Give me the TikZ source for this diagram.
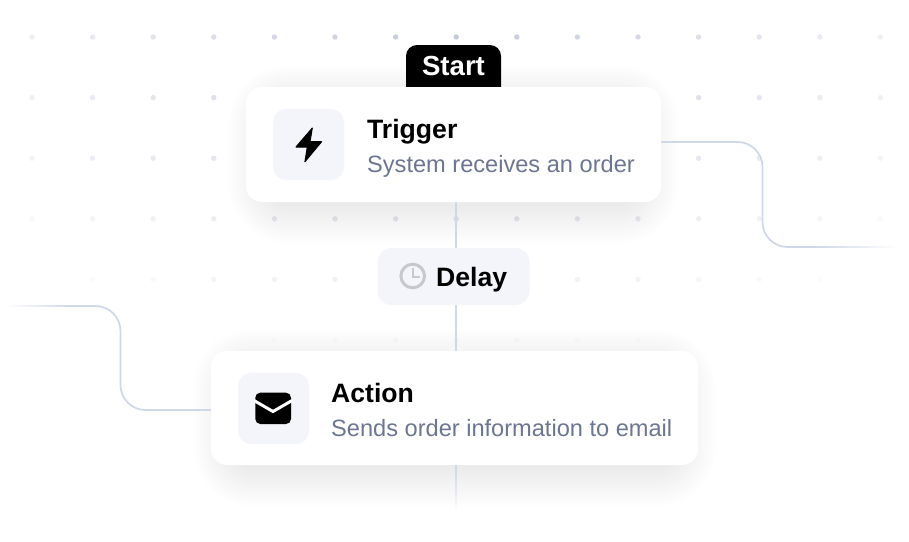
\documentclass[tikz,border=0pt]{standalone}
\usepackage{fontspec}
\setmainfont{Liberation Sans}
\usetikzlibrary{fadings}

\definecolor{linkc}{HTML}{CFD8E8}
\definecolor{dotc}{HTML}{C6CADB}
\definecolor{tilec}{HTML}{F3F5FA}
\definecolor{subc}{HTML}{6B7690}
\definecolor{clockc}{HTML}{C6C8CC}

\tikzset{
    cardbox/.style={fill=white, rounded corners=16pt, inner sep=0pt},
    tilebox/.style={fill=tilec, rounded corners=13pt, inner sep=0pt, minimum width=71pt, minimum height=71pt},
    titletext/.style={anchor=base west, inner sep=0pt, font=\fontsize{26.6}{30}\selectfont\bfseries},
    subtext/.style={anchor=base west, inner sep=0pt, text=subc, font=\fontsize{23.6}{28}\selectfont},
    linkline/.style={draw=linkc, line width=1.7pt, rounded corners=25pt}
}

\newcommand{\cardshadow}[5]{%
    \foreach \g in {0,2,...,44} {
        \fill[black, opacity=#5, rounded corners=16pt+\g pt]
            (#1+26-\g, #2+22-\g) rectangle (#3-26+\g, #4-2+\g);
    }
}

\begin{document}
\begin{tikzpicture}[x=1pt, y=-1pt]
    \useasboundingbox[fill=white] (0,0) rectangle (909,541);

    % Dots
    \foreach \i in {0,...,14} {
        \foreach \j in {0,...,5} {
            \pgfmathsetmacro{\dotx}{32+60.6*\i}
            \pgfmathsetmacro{\doty}{37+60.6*\j}
            \pgfmathsetmacro{\dotop}{max(0, 1-veclen(\dotx-450,1.8*(\doty-37))/600)}
            \fill[dotc, opacity=\dotop] (\dotx,\doty) circle (2.7pt);
        }
    }

    % Shadows
    \cardshadow{246}{87}{661}{202}{0.0025}
    \cardshadow{211}{351}{698}{465}{0.0035}

    % Nodes
    \node[fill=black, rounded corners=11pt, minimum width=95pt, minimum height=60pt, inner sep=0pt] (starttab) at (453.5,75) {};
    \node[anchor=base, inner sep=0pt, text=white, font=\fontsize{27.6}{30}\selectfont\bfseries] (startlabel) at (453.5,75.7) {Start};

    \node[cardbox, minimum width=415pt, minimum height=115pt] (trigger) at (453.5,144.5) {};
    \node[tilebox] (triggertile) at (308.5,144.5) {};
    \node[titletext] (triggertitle) at (367,138.6) {Trigger};
    \node[subtext] (triggersub) at (367,172.7) {System receives an order};

    \node[fill=tilec, rounded corners=14pt, inner sep=0pt, minimum width=152pt, minimum height=57pt] (delay) at (453.5,276.5) {};
    \node[titletext] (delaytitle) at (436,286) {Delay};

    \node[cardbox, minimum width=487pt, minimum height=114pt] (action) at (454.5,408) {};
    \node[tilebox] (actiontile) at (273.5,408.5) {};
    \node[titletext] (actiontitle) at (331,402.7) {Action};
    \node[subtext] (actionsub) at (331,436.3) {Sends order information to email};

    % Icons
    \fill[black, draw=black, line width=1pt, line join=round] (312.3,128) -- (296,147) -- (307.3,147) -- (304.9,161.8) -- (321.6,141.7) -- (310,141.7) -- cycle;
    \fill[black, rounded corners=5pt] (255.3,392.7) rectangle (291,424);
    \draw[white, line width=3pt] (254,400.5) -- (273,411.5) -- (292,400.5);
    \draw[clockc, line width=3pt] (412.7,276) circle (11.8pt);
    \draw[clockc, line width=2pt] (412.7,267.5) -- (412.7,277) -- (420,277);

    % Links
    \coordinate (rightfade) at (815,247);
    \coordinate (rightend) at (897,247.85);
    \coordinate (leftfade) at (70,306);
    \coordinate (leftend) at (6,305.15);
    \coordinate (downend) at (456.85,512);

    \draw[linkline] (456,202) -- ([xshift=2.5pt]delay.north);
    \draw[linkline] ([xshift=2.5pt]delay.south) -- (456,351);
    \draw[linkline] ([yshift=2.5pt]trigger.east) -- (762.5,142) -- (762.5,247) -- (rightfade);
    \draw[linkline] ([yshift=-2pt]action.west) -- (120.5,410) -- (120.5,306) -- (leftfade);
    \fill[linkc, path fading=east] ([yshift=0.85pt]rightfade) rectangle (rightend);
    \fill[linkc, path fading=west] ([yshift=-0.85pt]leftfade) rectangle (leftend);
    \fill[linkc, path fading=south] (455.15,465) rectangle (downend);
\end{tikzpicture}
\end{document}
